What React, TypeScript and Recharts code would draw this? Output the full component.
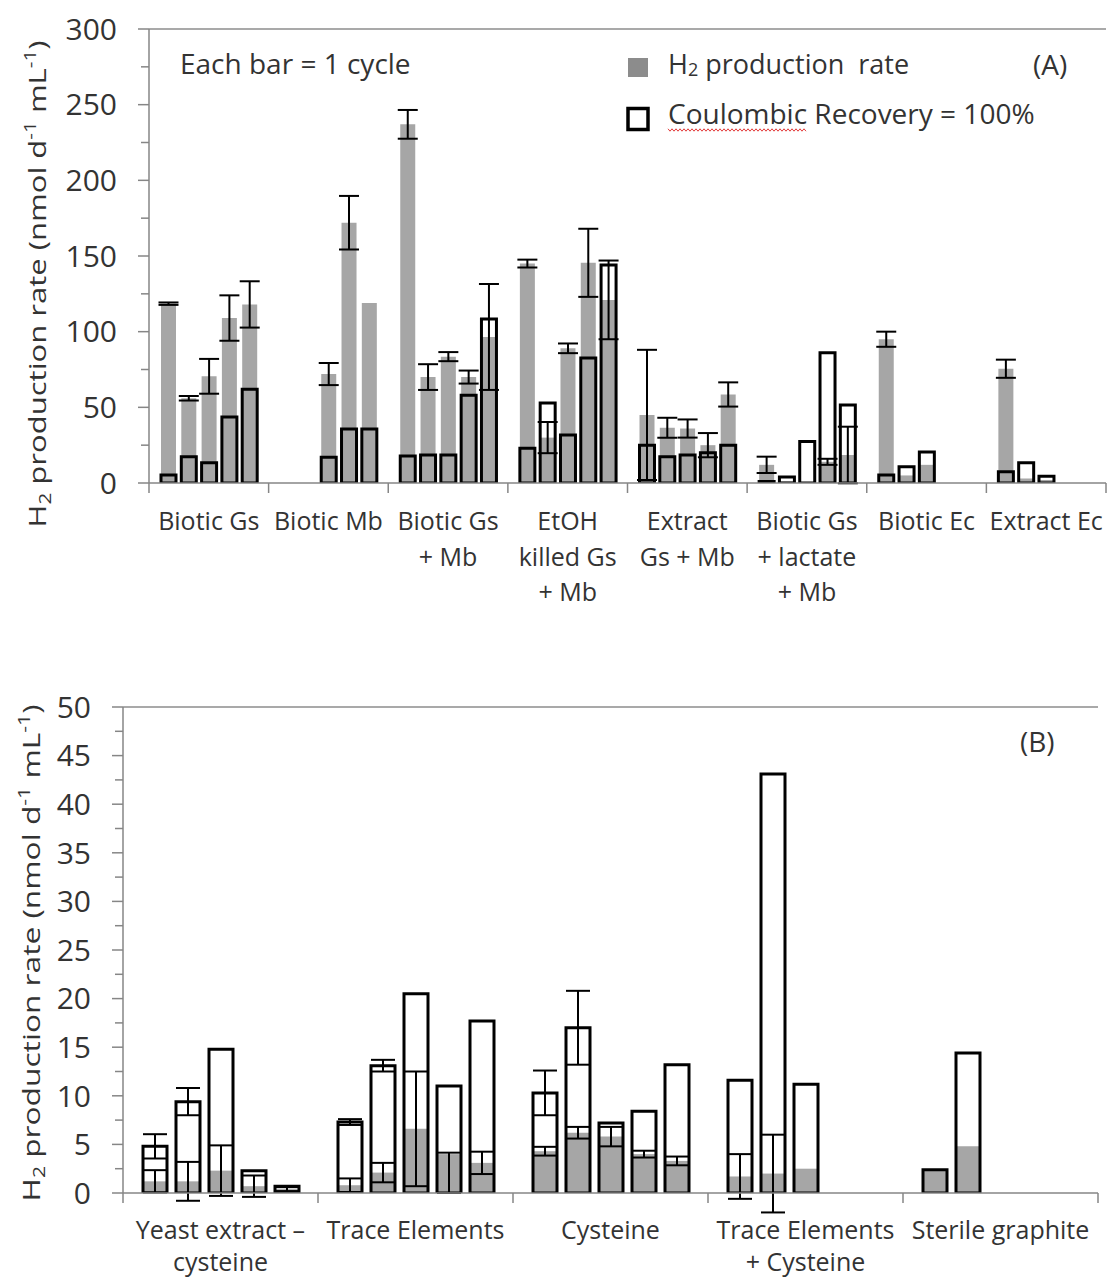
import React from 'react';
import { BarChart, Bar, XAxis, YAxis, ErrorBar, ReferenceLine, Customized } from 'recharts';

const FONT = "'Open Sans', 'DejaVu Sans', sans-serif";
const AXIS = '#868686';
const BORDER = '#8c8c8c';
const TEXT = '#333333';
const GREY = '#a6a6a6';
const LEGEND_GREY = '#8c8c8c';

// ---------------- Panel A data ----------------
const CATEGORIES_A = ['Biotic Gs', 'Biotic Mb', 'Biotic Gs + Mb', 'EtOH killed Gs + Mb', 'Extract Gs + Mb', 'Biotic Gs + lactate + Mb', 'Biotic Ec', 'Extract Ec'];
const LABEL_LINES_A = [['Biotic Gs'], ['Biotic Mb'], ['Biotic Gs', '+ Mb'], ['EtOH', 'killed Gs', '+ Mb'], ['Extract', 'Gs + Mb'], ['Biotic Gs', '+ lactate', '+ Mb'], ['Biotic Ec'], ['Extract Ec']];
const Y_TICKS_A = [0, 25, 50, 75, 100, 125, 150, 175, 200, 225, 250, 275, 300];

// H2 production rate, one array per cycle (bar slot)
const H2_A_CYCLE1 = [118.5, null, 237, 145, 45, 12, 95, 75.5];
const H2_A_CYCLE2 = [56, null, 70, 30, 36.5, 1, 5, 3];
const H2_A_CYCLE3 = [70.5, 72, 83.5, 89, 36, 0.5, 12, 2];
const H2_A_CYCLE4 = [109, 172, 70, 145.5, 25, 14, null, null];
const H2_A_CYCLE5 = [118, 119, 96.5, 121, 58.5, 18.5, null, null];
// error of H2 production rate
const H2_A_ERR1 = [0.8, null, 9.5, 2.6, 43, 5.4, 5, 6];
const H2_A_ERR2 = [1.5, null, 8.5, 10.3, 6.6, null, null, null];
const H2_A_ERR3 = [11.5, 7.3, 3, 3.2, 6, null, null, null];
const H2_A_ERR4 = [15, 17.7, 4.3, 22.5, 8, 2, null, null];
const H2_A_ERR5 = [15.3, null, 35, 26, 8, 18.7, null, null];
// Coulombic recovery = 100 %
const CR_A_CYCLE1 = [5.3, null, 17.8, 23, 25, 1, 5.3, 7.5];
const CR_A_CYCLE2 = [17.4, null, 18.5, 52.8, 17.4, 4, 10.8, 13.4];
const CR_A_CYCLE3 = [13.4, 17, 18.5, 31.7, 18.5, 27.5, 20.5, 4.5];
const CR_A_CYCLE4 = [43.6, 35.7, 58, 82.6, 20, 86, null, null];
const CR_A_CYCLE5 = [62, 35.7, 108.4, 144, 25, 51.5, null, null];

// ---------------- Panel B data ----------------
const CATEGORIES_B = ['Yeast extract – cysteine', 'Trace Elements', 'Cysteine', 'Trace Elements + Cysteine', 'Sterile graphite'];
const LABEL_LINES_B = [['Yeast extract –', 'cysteine'], ['Trace Elements'], ['Cysteine'], ['Trace Elements', '+ Cysteine'], ['Sterile graphite']];
const Y_TICKS_B = [0, 2.5, 5, 7.5, 10, 12.5, 15, 17.5, 20, 22.5, 25, 27.5, 30, 32.5, 35, 37.5, 40, 42.5, 45, 47.5, 50];

const H2_B_CYCLE1 = [1.2, 0.8, 4.3, 1.7, 2.4];
const H2_B_CYCLE2 = [1.2, 2.1, 6.2, 2.0, 4.8];
const H2_B_CYCLE3 = [2.3, 6.6, 5.8, 2.5, null];
const H2_B_CYCLE4 = [0.7, 4.0, 4.0, null, null];
const H2_B_CYCLE5 = [0.4, 3.1, 3.3, null, null];
const H2_B_ERR1 = [1.15, 0.7, 0.45, 2.3, null];
const H2_B_ERR2 = [2.0, 1.0, 0.6, 4.0, null];
const H2_B_ERR3 = [2.6, 5.9, 1.0, null, null];
const H2_B_ERR4 = [1.1, [4.0, 0.15], 0.35, null, null];
const H2_B_ERR5 = [0.2, 1.15, 0.45, null, null];

const CR_B_CYCLE1 = [4.8, 7.3, 10.3, 11.6, 2.4];
const CR_B_CYCLE2 = [9.4, 13.1, 17.0, 43.1, 14.4];
const CR_B_CYCLE3 = [14.8, 20.5, 7.2, 11.2, null];
const CR_B_CYCLE4 = [2.3, 11.0, 8.4, null, null];
const CR_B_CYCLE5 = [0.7, 17.7, 13.2, null, null];
const CR_B_ERR1 = [1.25, 0.3, 2.3, null, null];
const CR_B_ERR2 = [1.4, 0.6, 3.8, null, null];
const CR_B_ERR3 = [null, null, null, null, null];
const CR_B_ERR4 = [null, null, null, null, null];
const CR_B_ERR5 = [null, null, null, null, null];

const CYCLES = [0, 1, 2, 3, 4];

function buildData(cats: string[], h2: any[][], h2err: any[][], cr: any[][], crerr: any[][] | null) {
  return cats.map((cat, i) => {
    const row: any = { cat };
    CYCLES.forEach((k) => {
      row[`h${k}`] = h2[k][i];
      row[`he${k}`] = h2err[k][i];
      row[`c${k}`] = cr[k][i];
      row[`ce${k}`] = crerr ? crerr[k][i] : null;
    });
    return row;
  });
}

const DATA_A = buildData(
  CATEGORIES_A,
  [H2_A_CYCLE1, H2_A_CYCLE2, H2_A_CYCLE3, H2_A_CYCLE4, H2_A_CYCLE5],
  [H2_A_ERR1, H2_A_ERR2, H2_A_ERR3, H2_A_ERR4, H2_A_ERR5],
  [CR_A_CYCLE1, CR_A_CYCLE2, CR_A_CYCLE3, CR_A_CYCLE4, CR_A_CYCLE5],
  null
);
const DATA_B = buildData(
  CATEGORIES_B,
  [H2_B_CYCLE1, H2_B_CYCLE2, H2_B_CYCLE3, H2_B_CYCLE4, H2_B_CYCLE5],
  [H2_B_ERR1, H2_B_ERR2, H2_B_ERR3, H2_B_ERR4, H2_B_ERR5],
  [CR_B_CYCLE1, CR_B_CYCLE2, CR_B_CYCLE3, CR_B_CYCLE4, CR_B_CYCLE5],
  [CR_B_ERR1, CR_B_ERR2, CR_B_ERR3, CR_B_ERR4, CR_B_ERR5]
);

// ---------------- layout ----------------
const W = 1108;
const H_A = 640;
const MARGIN_A = { top: 29, right: 2, left: 69, bottom: 37 };
const XAXIS_H_A = 120;
const H_B = 641;
const MARGIN_B = { top: 67, right: 10, left: 43, bottom: 28 };
const XAXIS_H_B = 60;
const Y_AXIS_W = 80;
const BAND_A = (W - MARGIN_A.left - Y_AXIS_W - MARGIN_A.right) / CATEGORIES_A.length;
const BAND_B = (W - MARGIN_B.left - Y_AXIS_W - MARGIN_B.right) / CATEGORIES_B.length;

function makeCatTick(lines: string[][], band: number, count: number, firstDy: number, lineH: number) {
  return (props: any) => {
    const { x, y, index } = props;
    const lbl = lines[index] || [];
    return (
      <g>
        <line x1={x - band / 2} x2={x - band / 2} y1={y} y2={y + 10} stroke={AXIS} strokeWidth={1.5} />
        {index === count - 1 && (
          <line x1={x + band / 2} x2={x + band / 2} y1={y} y2={y + 10} stroke={AXIS} strokeWidth={1.5} />
        )}
        {lbl.map((t, i) => (
          <text key={i} x={x} y={y + firstDy + i * lineH} textAnchor="middle" fontSize={25} fontFamily={FONT} fill={TEXT}>
            {t}
          </text>
        ))}
      </g>
    );
  };
}

function makeYTick(step: number, labelGap: number) {
  return (props: any) => {
    const { x, y, payload } = props;
    const v = payload.value;
    const major = Math.abs(v / step - Math.round(v / step)) < 1e-6;
    return (
      <g>
        <line x1={x - (major ? 11 : 8)} x2={x} y1={y} y2={y} stroke={AXIS} strokeWidth={1.5} />
        {major && (
          <text x={x - labelGap} y={y} dy="0.36em" textAnchor="end" fontSize={30} fontFamily={FONT} fill={TEXT}>
            {v}
          </text>
        )}
      </g>
    );
  };
}

function AxisTitle({ x, y, length }: { x: number; y: number; length: number }) {
  return (
    <text
      transform={`rotate(-90, ${x}, ${y})`}
      x={x}
      y={y}
      textAnchor="middle"
      fontSize={24}
      fontFamily={FONT}
      fill={TEXT}
      textLength={length}
      lengthAdjust="spacingAndGlyphs"
    >
      H<tspan fontSize={16} dy={5}>2</tspan>
      <tspan dy={-5}> production rate (nmol d</tspan>
      <tspan fontSize={16} dy={-10}>-1</tspan>
      <tspan dy={10}> mL</tspan>
      <tspan fontSize={16} dy={-10}>-1</tspan>
      <tspan dy={10}>)</tspan>
    </text>
  );
}

function squigglePoints(x0: number, x1: number, y: number) {
  const pts: string[] = [];
  let up = true;
  for (let x = x0; x <= x1; x += 2) {
    pts.push(`${x},${up ? y - 1.2 : y + 1.2}`);
    up = !up;
  }
  return pts.join(' ');
}

function AnnotationsA() {
  return (
    <g fontFamily={FONT}>
      <text x={180} y={74} fontSize={28} fill={TEXT}>Each bar = 1 cycle</text>
      <rect x={628} y={58} width={20} height={19} fill={LEGEND_GREY} />
      <text x={668} y={74} fontSize={27} fill={TEXT} style={{ whiteSpace: 'pre' }}>
        H<tspan fontSize={18} dy={2}>2</tspan>
        <tspan dy={-2}> production  rate</tspan>
      </text>
      <rect x={628} y={108.5} width={20} height={21} fill="none" stroke="#000" strokeWidth={3.5} />
      <text x={668} y={124} fontSize={28} fill={TEXT}>Coulombic Recovery = 100%</text>
      <polyline points={squigglePoints(668, 806, 130)} fill="none" stroke="#e23b3b" strokeWidth={1} />
      <text x={1033} y={75} fontSize={28} fill={TEXT}>(A)</text>
      <AxisTitle x={46} y={284} length={487} />
    </g>
  );
}

function AnnotationsB() {
  return (
    <g fontFamily={FONT}>
      <text x={1020} y={112} fontSize={28} fill={TEXT}>(B)</text>
      <AxisTitle x={40} y={313} length={497} />
    </g>
  );
}

function Panel({ data, height, margin, xAxisH, yMax, yTicks, yStep, labels, band, barSize, barGap, capA, capB, outlineErr, firstDy, lineH, annotations }: any) {
  return (
    <BarChart width={W} height={height} data={data} margin={margin} barSize={barSize} barGap={barGap}>
      <XAxis
        xAxisId="h2"
        dataKey="cat"
        height={xAxisH}
        interval={0}
        tickSize={0}
        tickMargin={0}
        tickLine={false}
        axisLine={{ stroke: AXIS, strokeWidth: 1.5 }}
        tick={makeCatTick(labels, band, labels.length, firstDy, lineH)}
      />
      <XAxis xAxisId="cr" dataKey="cat" hide height={0} />
      <YAxis
        domain={[0, yMax]}
        ticks={yTicks}
        interval={0}
        allowDataOverflow
        width={Y_AXIS_W}
        tickSize={0}
        tickMargin={0}
        tickLine={false}
        axisLine={{ stroke: AXIS, strokeWidth: 1.5 }}
        tick={makeYTick(yStep, 32)}
      />
      <YAxis yAxisId="r" orientation="right" domain={[0, yMax]} width={0} tick={false} tickLine={false} axisLine={{ stroke: BORDER, strokeWidth: 1.5 }} />
      <ReferenceLine y={yMax} stroke={BORDER} strokeWidth={1.5} />
      {CYCLES.map((k) => (
        <Bar key={`h${k}`} xAxisId="h2" dataKey={`h${k}`} fill={GREY} isAnimationActive={false}>
          <ErrorBar dataKey={`he${k}`} width={capA} stroke="#000" strokeWidth={2} direction="y" isAnimationActive={false} />
        </Bar>
      ))}
      {CYCLES.map((k) => (
        <Bar key={`c${k}`} xAxisId="cr" dataKey={`c${k}`} fill="none" stroke="#000" strokeWidth={3} isAnimationActive={false}>
          {outlineErr && <ErrorBar dataKey={`ce${k}`} width={capB} stroke="#000" strokeWidth={2} direction="y" isAnimationActive={false} />}
        </Bar>
      ))}
      <Customized component={annotations} />
    </BarChart>
  );
}

export default function App() {
  return (
    <div style={{ position: 'absolute', left: 0, top: 0, width: W, height: 1281, background: '#fff' }}>
      <div style={{ position: 'absolute', left: 0, top: 0 }}>
        <Panel
          data={DATA_A}
          height={H_A}
          margin={MARGIN_A}
          xAxisH={XAXIS_H_A}
          yMax={300}
          yTicks={Y_TICKS_A}
          yStep={50}
          labels={LABEL_LINES_A}
          band={BAND_A}
          barSize={15}
          barGap={5.3}
          capA={10}
          capB={10}
          outlineErr={false}
          firstDy={47}
          lineH={35.5}
          annotations={<AnnotationsA />}
        />
      </div>
      <div style={{ position: 'absolute', left: 0, top: H_A }}>
        <Panel
          data={DATA_B}
          height={H_B}
          margin={MARGIN_B}
          xAxisH={XAXIS_H_B}
          yMax={50}
          yTicks={Y_TICKS_B}
          yStep={5}
          labels={LABEL_LINES_B}
          band={BAND_B}
          barSize={24}
          barGap={9}
          capA={12}
          capB={12}
          outlineErr={true}
          firstDy={46}
          lineH={32}
          annotations={<AnnotationsB />}
        />
      </div>
    </div>
  );
}
